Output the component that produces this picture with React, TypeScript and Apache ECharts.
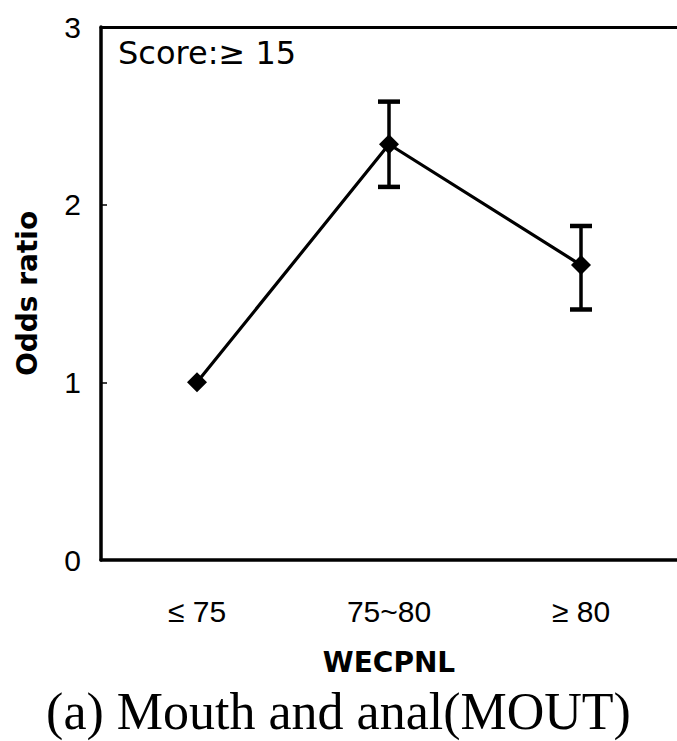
import React, { useEffect, useRef } from "react";
import * as echarts from "echarts";

const categories = ["≤ 75", "75~80", "≥ 80"];
const oddsRatio = [1.0, 2.34, 1.66];
const lowerCI = [null, 2.1, 1.41];
const upperCI = [null, 2.58, 1.88];
const yTicks = [0, 1, 2, 3];
const scoreLabel = "Score:≥ 15";
const xAxisName = "WECPNL";
const yAxisName = "Odds ratio";
const caption = "(a) Mouth and anal(MOUT)";

export default function App() {
  const ref = useRef<HTMLDivElement>(null);
  useEffect(() => {
    if (!ref.current) return;
    const chart = echarts.init(ref.current, null, { renderer: "svg" });
    const errData = categories
      .map((_, i) => (lowerCI[i] != null && upperCI[i] != null ? [i, lowerCI[i], upperCI[i]] : null))
      .filter((d) => d !== null);
    chart.setOption({
      animation: false,
      backgroundColor: "#fff",
      title: [
        {
          text: scoreLabel,
          left: 113,
          top: 32,
          textStyle: { fontFamily: "DejaVu Sans", fontSize: 32, fontWeight: "normal", color: "#000" },
        },
        {
          text: caption,
          left: "center",
          top: 680,
          textStyle: { fontFamily: "Liberation Serif", fontSize: 52, fontWeight: "normal", color: "#000" },
        },
      ],
      grid: { left: 101, top: 27, bottom: 181, right: -6, containLabel: false },
      xAxis: [
        {
          type: "category",
          data: categories,
          position: "bottom",
          axisLine: { lineStyle: { color: "#000", width: 3.5 } },
          axisTick: { show: false },
          axisLabel: { color: "#000", fontFamily: "Liberation Sans", fontSize: 30, margin: 36 },
          name: xAxisName,
          nameLocation: "middle",
          nameGap: 88,
          nameTextStyle: { color: "#000", fontFamily: "DejaVu Sans", fontWeight: "bold", fontSize: 28 },
        },
        {
          type: "category",
          data: categories,
          position: "top",
          axisLine: { lineStyle: { color: "#000", width: 3 } },
          axisTick: { show: false },
          axisLabel: { show: false },
        },
      ],
      yAxis: {
        type: "value",
        min: yTicks[0],
        max: yTicks[yTicks.length - 1],
        interval: 1,
        splitLine: { show: false },
        axisLine: { show: true, lineStyle: { color: "#000", width: 3.5 } },
        axisTick: { show: true, inside: true, length: 6, lineStyle: { color: "#000", width: 1.5 } },
        axisLabel: { color: "#000", fontFamily: "Liberation Sans", fontSize: 30, margin: 20 },
        name: yAxisName,
        nameLocation: "middle",
        nameGap: 60,
        nameTextStyle: { color: "#000", fontFamily: "DejaVu Sans", fontWeight: "bold", fontSize: 28 },
      },
      series: [
        {
          type: "custom",
          data: errData,
          encode: { x: 0, y: [1, 2] },
          z: 2,
          renderItem: (params: any, api: any) => {
            const x = api.value(0);
            const lo = api.coord([x, api.value(1)]);
            const hi = api.coord([x, api.value(2)]);
            const hw = 11;
            const st = { stroke: "#000", lineWidth: 3.5 };
            return {
              type: "group",
              children: [
                { type: "line", shape: { x1: lo[0], y1: lo[1], x2: hi[0], y2: hi[1] }, style: st },
                { type: "line", shape: { x1: hi[0] - hw, y1: hi[1], x2: hi[0] + hw, y2: hi[1] }, style: { stroke: "#000", lineWidth: 4.5 } },
                { type: "line", shape: { x1: lo[0] - hw, y1: lo[1], x2: lo[0] + hw, y2: lo[1] }, style: { stroke: "#000", lineWidth: 4.5 } },
              ],
            };
          },
        },
        {
          type: "line",
          data: oddsRatio,
          z: 3,
          symbol: "diamond",
          symbolSize: 20,
          itemStyle: { color: "#000" },
          lineStyle: { color: "#000", width: 3.2 },
        },
      ],
    });
    return () => chart.dispose();
  }, []);
  return <div ref={ref} style={{ position: "absolute", left: 0, top: 0, width: 677, height: 741 }} />;
}
